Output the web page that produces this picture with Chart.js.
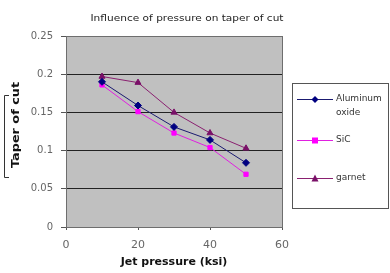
<!DOCTYPE html>
<html><head><meta charset="utf-8">
<script src="https://cdn.jsdelivr.net/npm/chart.js@4/dist/chart.umd.min.js"></script>
<style>html,body{margin:0;padding:0;background:#fff}#wrap{width:390px;height:273px}</style>
</head><body><div id="wrap"><canvas id="c" width="390" height="273"></canvas></div>
<script>
const pressures = [10, 20, 30, 40, 50];
const aluminumOxide = [0.190, 0.159, 0.131, 0.114, 0.084];
const sic = [0.186, 0.151, 0.123, 0.104, 0.069];
const garnet = [0.197, 0.189, 0.150, 0.123, 0.103];
const seriesNames = ['Aluminum oxide', 'SiC', 'garnet'];
const chartTitle = 'Influence of pressure on taper of cut';
const xTitle = 'Jet pressure (ksi)';
const yTitle = 'Taper of cut';

const FONT = '"DejaVu Sans", "Liberation Sans", Arial, sans-serif';
const pts = (ys) => pressures.map((x, i) => ({x, y: ys[i]}));

function fitText(ctx, text, cx, cy, width) {
  const w = ctx.measureText(text).width;
  ctx.save();
  ctx.translate(cx, cy);
  ctx.scale(width / w, 1);
  ctx.textAlign = 'center';
  ctx.fillText(text, 0, 0);
  ctx.restore();
}

const bgPlugin = {
  id: 'bg',
  beforeDraw(chart) {
    const {ctx, chartArea: a} = chart;
    ctx.save();
    ctx.fillStyle = '#c0c0c0';
    ctx.fillRect(a.left, a.top, a.right - a.left, a.bottom - a.top);
    ctx.restore();
  },
  afterDraw(chart) {
    const {ctx, chartArea: a} = chart;
    ctx.save();
    ctx.strokeStyle = '#6e6e6e';
    ctx.lineWidth = 1;
    ctx.strokeRect(a.left + 0.5, a.top + 0.5, a.right - a.left, a.bottom - a.top);
    // title
    ctx.fillStyle = '#222';
    ctx.font = '9px ' + FONT;
    ctx.textBaseline = 'middle';
    fitText(ctx, chartTitle, 187, 19, 193);
    // y title
    ctx.font = 'bold 11px ' + FONT;
    ctx.fillStyle = '#111';
    ctx.save();
    ctx.translate(16, 125);
    ctx.rotate(-Math.PI / 2);
    fitText(ctx, yTitle, 0, 0, 86);
    ctx.restore();
    // y title bracket
    ctx.strokeStyle = '#333';
    ctx.beginPath();
    ctx.moveTo(9, 95.5); ctx.lineTo(4.5, 95.5); ctx.lineTo(4.5, 177.5); ctx.lineTo(9, 177.5);
    ctx.stroke();
    // legend
    const lx = 292, ly = 83, lw = 96, lh = 125;
    ctx.fillStyle = '#fff';
    ctx.fillRect(lx, ly, lw, lh);
    ctx.strokeStyle = '#555';
    ctx.strokeRect(lx + 0.5, ly + 0.5, lw, lh);
    const rows = [99, 140, 178];
    chart.data.datasets.forEach((ds, i) => {
      const y = rows[i];
      ctx.strokeStyle = ds.borderColor;
      ctx.lineWidth = 1;
      ctx.beginPath(); ctx.moveTo(297, y + 0.5); ctx.lineTo(333, y + 0.5); ctx.stroke();
      ctx.fillStyle = ds.pointBackgroundColor;
      const cx = 315, cy = y + 0.5, r = 3;
      ctx.beginPath();
      if (ds.pointStyle === 'rectRot') { ctx.moveTo(cx, cy - r - 0.5); ctx.lineTo(cx + r + 0.5, cy); ctx.lineTo(cx, cy + r + 0.5); ctx.lineTo(cx - r - 0.5, cy); }
      else if (ds.pointStyle === 'rect') { ctx.rect(cx - r, cy - r, 2 * r, 2 * r); }
      else { ctx.moveTo(cx, cy - r - 1); ctx.lineTo(cx + r + 0.5, cy + r); ctx.lineTo(cx - r - 0.5, cy + r); }
      ctx.closePath(); ctx.fill();
      ctx.fillStyle = '#333';
      ctx.font = '9px ' + FONT;
      ctx.textAlign = 'left';
      ctx.textBaseline = 'middle';
      if (i === 0) { ctx.fillText('Aluminum', 336, y); ctx.fillText('oxide', 336, y + 14); }
      else ctx.fillText(ds.label, 336, y);
    });
    ctx.restore();
  }
};

new Chart(document.getElementById('c'), {
  type: 'line',
  data: {
    datasets: [
      {label: seriesNames[0], data: pts(aluminumOxide), borderColor: '#1a1a70', pointBackgroundColor: '#000080', pointBorderColor: '#000080', pointStyle: 'rectRot', pointRadius: 3.5, borderWidth: 1},
      {label: seriesNames[1], data: pts(sic), borderColor: '#e020e0', pointBackgroundColor: '#ff00ff', pointBorderColor: '#ff00ff', pointStyle: 'rect', pointRadius: 3, borderWidth: 1},
      {label: seriesNames[2], data: pts(garnet), borderColor: '#8a2070', pointBackgroundColor: '#7a1068', pointBorderColor: '#7a1068', pointStyle: 'triangle', pointRadius: 3.5, borderWidth: 1}
    ]
  },
  options: {
    responsive: false,
    animation: false,
    layout: {padding: {left: 0, right: 108, top: 36, bottom: 4}},
    plugins: {legend: {display: false}, title: {display: false}, tooltip: {enabled: false}},
    scales: {
      x: {
        type: 'linear', min: 0, max: 60,
        ticks: {stepSize: 20, color: '#666', font: {size: 11, family: FONT}, padding: 9},
        grid: {display: true, drawOnChartArea: false, drawTicks: true, tickLength: 3, color: '#555'},
        border: {display: false},
        title: {display: true, text: xTitle, color: '#111', font: {size: 11, weight: 'bold', family: FONT}, padding: {top: 0, bottom: 0}},
        afterFit(s) { s.height = 42; }
      },
      y: {
        min: 0, max: 0.25,
        ticks: {stepSize: 0.05, color: '#666', font: {size: 10, family: FONT}, padding: 8,
          callback: (v) => String(Number(v.toFixed(2)))},
        grid: {color: '#222', lineWidth: 1, tickLength: 5, tickColor: '#555'},
        border: {display: false},
        title: {display: false},
        afterFit(s) { s.width = 66; }
      }
    }
  },
  plugins: [bgPlugin]
});
</script></body></html>
